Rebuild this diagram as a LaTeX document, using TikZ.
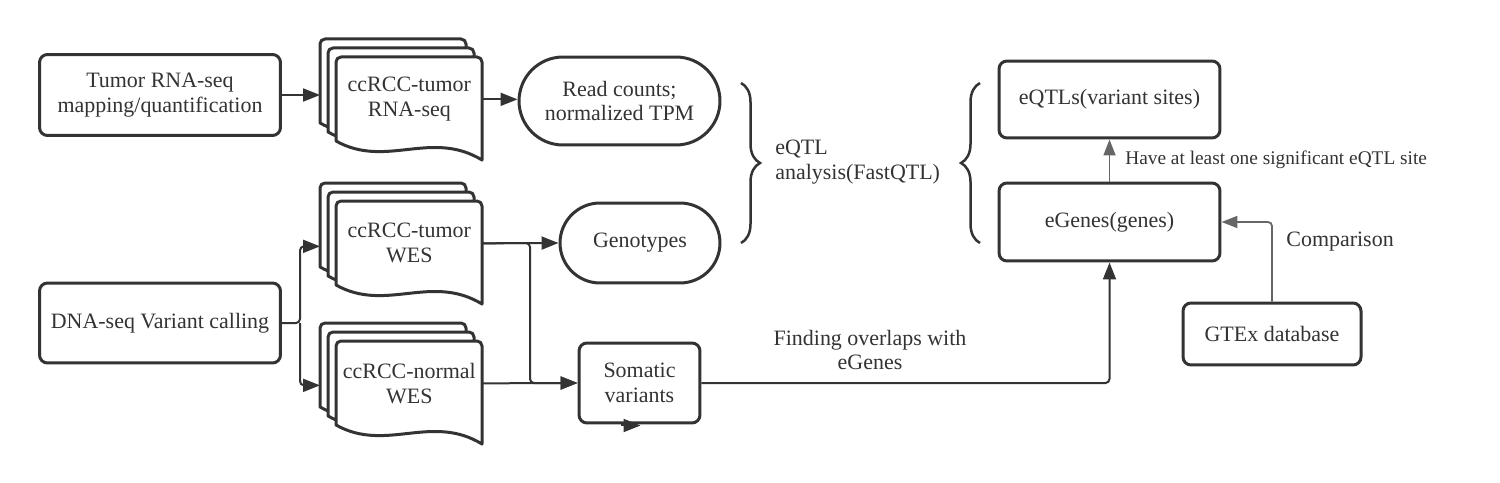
\documentclass[tikz,border=0pt]{standalone}
\usepackage{fontspec}
\setmainfont{Liberation Serif}
\usepackage{xcolor}
\usepackage{tikz}
\usetikzlibrary{positioning,arrows.meta,shapes.misc,decorations.pathreplacing,calc}
\definecolor{linec}{HTML}{333333}
\definecolor{grayc}{HTML}{666666}
\tikzset{
box/.style={
draw=linec,
line width=0.06cm,
rounded corners=0.16cm,
fill=white,
align=center,
inner sep=0pt,
text=linec
},
term/.style={
rounded rectangle,
draw=linec,
line width=0.06cm,
align=center,
inner sep=0pt,
text=linec
},
sheet/.style={
draw=linec,
line width=0.06cm,
fill=white,
line join=round
},
doctext/.style={
minimum width=2.92cm,
minimum height=1.68cm,
align=center,
inner sep=0pt,
text=linec
},
arrow/.style={
draw=linec,
line width=0.04cm,
-{Triangle[length=0.34cm,width=0.26cm]}
},
grayarrow/.style={
draw=grayc,
line width=0.035cm,
-{Triangle[length=0.32cm,width=0.24cm]}
},
curly/.style={
draw=linec,
line width=0.05cm,
decorate,
decoration={brace,amplitude=0.38cm}
},
lbl/.style={
text=linec,
inner sep=0pt
}
}
% stack of three documents: name, left, top, text
\newcommand{\docstack}[4]{%
\foreach \dx/\dy in {-16/-18,-8/-9,0/0}
\draw[sheet] (#2+\dx,#3+\dy+84) [rounded corners=0.1cm] -- (#2+\dx,#3+\dy) -- (#2+\dx+146,#3+\dy) [sharp corners] -- (#2+\dx+146,#3+\dy+103) .. controls (#2+\dx+95,#3+\dy+72) and (#2+\dx+50,#3+\dy+112) .. (#2+\dx,#3+\dy+84) -- cycle;
\node[doctext,anchor=north west](#1) at (#2,#3){#4};
}

\begin{document}
\begin{tikzpicture}[x=0.02cm,y=-0.02cm,font=\fontsize{12.5}{14.2}\selectfont]
\useasboundingbox (0,0) rectangle (1500,483);
% inputs
\node[box,minimum width=4.82cm,minimum height=1.62cm](rnamap) at (160,95){Tumor RNA-seq\\mapping/quantification};
\node[box,minimum width=4.82cm,minimum height=1.6cm](dnacall) at (160,323){DNA-seq Variant calling};
% document stacks
\docstack{rnadoc}{336}{57}{ccRCC-tumor\\RNA-seq}
\docstack{wtumor}{336}{201}{ccRCC-tumor\\WES}
\docstack{wnormal}{336}{341}{ccRCC-normal\\WES}
% intermediate results
\node[term,minimum width=4.02cm,minimum height=1.76cm](counts) at (619.5,101){Read counts;\\normalized TPM};
\node[term,minimum width=3.2cm,minimum height=1.6cm](geno) at (640,243){Genotypes};
\node[box,minimum width=2.42cm,minimum height=1.6cm](somatic) at (639.5,383){Somatic\\variants};
% eQTL results
\node[box,minimum width=4.42cm,minimum height=1.54cm](eqtls) at (1109.5,99.5){eQTLs(variant sites)};
\node[box,minimum width=4.42cm,minimum height=1.56cm](egenes) at (1109.5,222){eGenes(genes)};
\node[box,minimum width=3.56cm,minimum height=1.24cm](gtex) at (1272,334){GTEx database};
% braces
\draw[curly](741,83) -- (741,243);
\draw[curly](980,243) -- (980,83);
\node[lbl,anchor=west,align=left](fastqtl) at (775,162){eQTL\\analysis(FastQTL)};

\coordinate (split) at (300,323);
\coordinate (vjoin) at (530,243);
\draw[arrow](rnamap.east) -- ($(rnamap.east -| rnadoc.west)+(-16,0)$);
\draw[arrow,rounded corners=0.08cm](dnacall.east) -- (split) |- ($(wtumor.west)+(-16,3)$);
\draw[arrow,rounded corners=0.08cm](split) |- ($(wnormal.west)+(-16,2)$);
\draw[arrow](rnadoc.east) -- (rnadoc.east -| counts.west);
\draw[arrow](wtumor.east) -- (geno.west);
\draw[arrow,rounded corners=0.08cm](wtumor.east) -- (vjoin) |- (somatic.west);
\draw[arrow](wnormal.east) -- (somatic.west);
\draw[arrow]($(somatic.south)+(-19,1)$) -- ($(somatic.south)+(1,1)$);
\draw[arrow,rounded corners=0.08cm](somatic.east) -| (egenes.south);
\node[lbl,align=center](overlap) at (870,350){Finding overlaps with\\eGenes};
\draw[grayarrow](egenes.north) -- (eqtls.south);
\node[lbl,anchor=west,font=\fontsize{11}{13}\selectfont](sig) at (1125,160){Have at least one significant eQTL site};
\draw[grayarrow,rounded corners=0.08cm](gtex.north) |- (egenes.east);
\node[lbl,anchor=west](cmp) at (1286,242){Comparison};
\end{tikzpicture}
\end{document}
